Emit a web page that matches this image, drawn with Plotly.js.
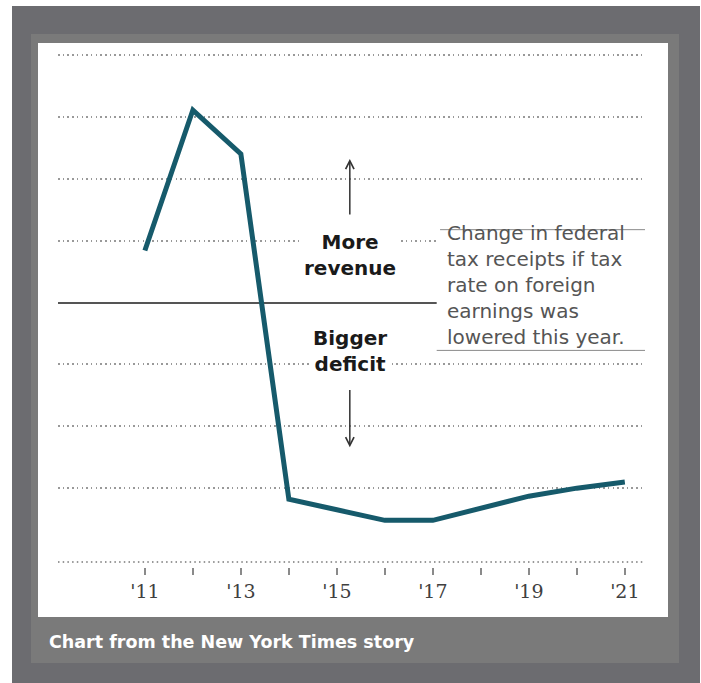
<!DOCTYPE html>
<html>
<head>
<meta charset="utf-8">
<script src="https://cdn.plot.ly/plotly-3.0.1.min.js"></script>
<style>
  html, body { margin: 0; padding: 0; background: #ffffff; width: 701px; height: 683px; overflow: hidden; }
  #outer { position: absolute; left: 12px; top: 6px; width: 688px; height: 677px; background: #6c6c70; }
  #panel { position: absolute; left: 31px; top: 34px; width: 648px; height: 629px; background: #7a7a7a; }
  #white { position: absolute; left: 38px; top: 43px; width: 630px; height: 574px; background: #ffffff; }
  #chart { position: absolute; left: 0; top: 0; width: 701px; height: 683px; }
</style>
</head>
<body>
<div id="outer"></div>
<div id="panel"></div>
<div id="white"></div>
<div id="chart"></div>
<script>
// Data (change in federal tax receipts, arbitrary units: 10 per gridline)
var years = [2011, 2012, 2013, 2014, 2015, 2016, 2017, 2018, 2019, 2020, 2021];
var receiptsChange = [8.4, 31.1, 24.0, -31.8, -33.5, -35.2, -35.2, -33.2, -31.3, -30.0, -29.0];
var tickYears = [2011, 2012, 2013, 2014, 2015, 2016, 2017, 2018, 2019, 2020, 2021];
var tickLabels = ["'11", "", "'13", "", "'15", "", "'17", "", "'19", "", "'21"];
var gridValues = [-30, -20, -10, 10, 20, 30, 40];
var noteText = "Change in federal<br>tax receipts if tax<br>rate on foreign<br>earnings was<br>lowered this year.";
var captionText = "Chart from the New York Times story";

var trace = {
  x: years,
  y: receiptsChange,
  type: 'scatter',
  mode: 'lines',
  line: { color: '#165a6b', width: 5 },
  hoverinfo: 'skip'
};

var layout = {
  width: 701,
  height: 683,
  margin: { l: 58, r: 56, t: 50, b: 116 },
  paper_bgcolor: 'rgba(0,0,0,0)',
  plot_bgcolor: 'rgba(0,0,0,0)',
  showlegend: false,
  xaxis: {
    range: [2009.19, 2021.42],
    tickvals: tickYears,
    ticktext: tickLabels,
    ticks: 'outside',
    ticklen: 7,
    tickwidth: 1.5,
    tickcolor: '#8a8a8a',
    showgrid: false,
    zeroline: false,
    showline: false,
    anchor: 'free',
    position: 0,
    tickfont: { family: 'DejaVu Serif, serif', size: 19, color: '#404040' }
  },
  yaxis: {
    range: [-41.935, 40.806],
    domain: [0.00967, 1],
    tickvals: gridValues,
    showticklabels: false,
    ticks: '',
    showgrid: true,
    gridcolor: '#999999',
    gridwidth: 2,
    griddash: '1.5px,3.2px',
    zeroline: true,
    zerolinecolor: '#555555',
    zerolinewidth: 2,
    showline: false
  },
  shapes: [
    { type: 'line', xref: 'paper', yref: 'y domain', x0: 0, x1: 1, y0: 0, y1: 0,
      line: { color: '#999999', width: 2, dash: '1.5px,3.2px' } },
    { type: 'rect', xref: 'x', yref: 'y', x0: 2017.08, x1: 2022, y0: -7.74, y1: 11.77,
      fillcolor: '#ffffff', line: { width: 0 }, layer: 'above' },
    { type: 'line', xref: 'x', yref: 'y', x0: 2017.15, x1: 2021.52, y0: 11.77, y1: 11.77,
      line: { color: '#8a8a8a', width: 1 }, layer: 'above' },
    { type: 'line', xref: 'x', yref: 'y', x0: 2017.08, x1: 2021.46, y0: -7.74, y1: -7.74,
      line: { color: '#8a8a8a', width: 1 }, layer: 'above' }
  ],
  annotations: [
    { x: 2015.27, y: 7.74, xref: 'x', yref: 'y', text: '<b>More<br>revenue</b>', showarrow: false,
      font: { family: 'DejaVu Sans, sans-serif', size: 20, color: '#1a1a1a' },
      bgcolor: '#ffffff', borderpad: 2, align: 'center' },
    { x: 2015.27, y: -7.82, xref: 'x', yref: 'y', text: '<b>Bigger<br>deficit</b>', showarrow: false,
      font: { family: 'DejaVu Sans, sans-serif', size: 20, color: '#1a1a1a' },
      bgcolor: '#ffffff', borderpad: 2, align: 'center' },
    { x: 2015.27, y: 23.2, ax: 2015.27, ay: 14.0, xref: 'x', yref: 'y', axref: 'x', ayref: 'y',
      text: '', showarrow: true, arrowhead: 5, arrowsize: 1.1, arrowwidth: 1.5, arrowcolor: '#333333' },
    { x: 2015.27, y: -23.4, ax: 2015.27, ay: -13.9, xref: 'x', yref: 'y', axref: 'x', ayref: 'y',
      text: '', showarrow: true, arrowhead: 5, arrowsize: 1.1, arrowwidth: 1.5, arrowcolor: '#333333' },
    { x: 2017.25, y: 2.9, xref: 'x', yref: 'y', xanchor: 'left', yanchor: 'middle', align: 'left',
      text: noteText, showarrow: false,
      font: { family: 'DejaVu Sans, sans-serif', size: 20, color: '#555555' } },
    { x: -0.0187, y: -0.145, xref: 'paper', yref: 'paper', xanchor: 'left', yanchor: 'middle',
      text: '<b>' + captionText + '</b>', showarrow: false,
      font: { family: 'DejaVu Sans, sans-serif', size: 17.5, color: '#ffffff' } }
  ]
};

Plotly.newPlot('chart', [trace], layout, { displayModeBar: false, staticPlot: true });
</script>
</body>
</html>
